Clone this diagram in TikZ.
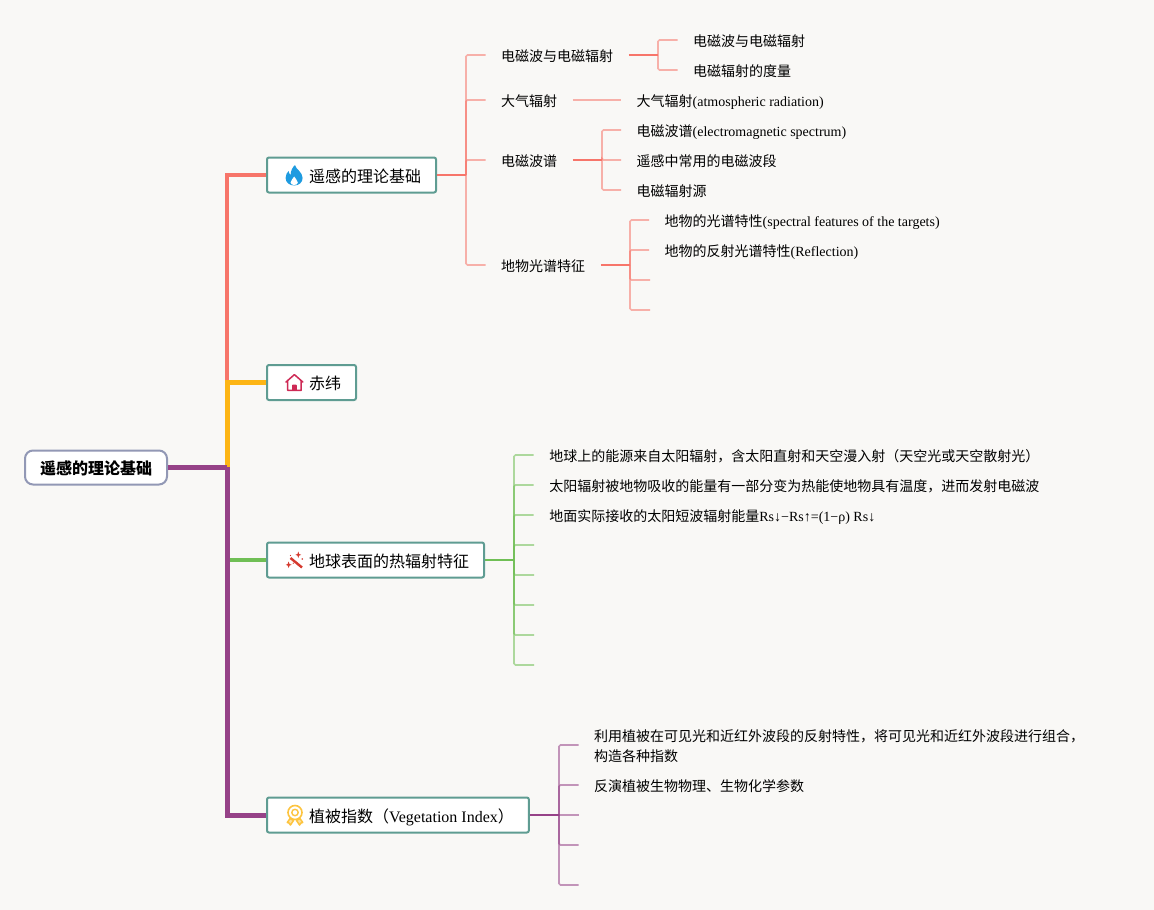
\documentclass[tikz,border=0pt]{standalone}
\usepackage{fontspec}
\setmainfont{Noto Sans CJK SC}
\newfontfamily\lat{Liberation Serif}
\definecolor{bgc}{HTML}{F9F8F6}
\definecolor{redc}{HTML}{F7756A}
\definecolor{yelc}{HTML}{FDB515}
\definecolor{grnc}{HTML}{70BF55}
\definecolor{purc}{HTML}{964288}
\definecolor{tealc}{HTML}{5F9C92}
\definecolor{rootc}{HTML}{9298B5}
\definecolor{flamec}{HTML}{1E9BE0}
\definecolor{housec}{HTML}{CE2A55}
\definecolor{wandc}{HTML}{D5392E}
\definecolor{medalc}{HTML}{FDC43F}
\tikzset{
  rootbox/.style={draw=rootc,line width=2pt,fill=white,rounded corners=8pt,anchor=west,
    inner xsep=15pt,inner ysep=0pt,minimum height=34pt,text height=1.6em,text depth=.12em,
    font=\fontsize{16}{20}\selectfont\bfseries},
  topicbox/.style={draw=tealc,line width=2pt,fill=white,rounded corners=2pt,anchor=west,
    inner xsep=15pt,inner ysep=0pt,minimum height=35pt,text height=1.52em,text depth=.12em,
    font=\fontsize{16}{20}\selectfont},
  leaf/.style={anchor=west,inner xsep=15.5pt,inner ysep=0pt,text height=1.43em,text depth=.12em,
    font=\fontsize{14}{20}\selectfont},
  twoline/.style={anchor=west,inner xsep=15.5pt,inner ysep=0pt,align=left,
    font=\fontsize{14}{20}\selectfont},
  trunk/.style={line width=#1,line join=miter},
  stem/.style={draw=#1,line width=1.8pt},
  twig/.style={draw=#1,line width=1.6pt,opacity=.55,rounded corners=1.5pt},
}
\begin{document}
\begin{tikzpicture}[x=1pt,y=-1pt]
\useasboundingbox[fill=bgc] (0,0) rectangle (1154,910);

% main nodes
\node[rootbox] (root) at (24,467.5) {遥感的理论基础};
\node[topicbox] (t1) at (266,175) {\hspace*{27pt}遥感的理论基础};
\node[topicbox] (t2) at (266,382.5) {\hspace*{27pt}赤纬};
\node[topicbox] (t3) at (266,560) {\hspace*{27pt}地球表面的热辐射特征};
\node[topicbox] (t4) at (266,815) {\hspace*{27pt}植被指数（{\lat Vegetation Index}）};

% main connectors
\coordinate (jr) at (227,467);
\draw[redc,trunk=3.5pt] (jr) -- (227,175) -- (t1.west);
\draw[grnc,trunk=4pt] (jr |- t3.west) -- (t3.west);
\draw[yelc,trunk=5pt] (jr) -- (227,382.5) -- (t2.west);
\draw[purc,trunk=5pt] (root.east |- jr) -- (jr);
\draw[purc,trunk=5pt] (jr) -- (227,815) -- (t4.west);

% branch 1
\node[leaf] (a1) at (485.5,55) {电磁波与电磁辐射};
\node[leaf] (a2) at (485.5,100) {大气辐射};
\node[leaf] (a3) at (485.5,160) {电磁波谱};
\node[leaf] (a4) at (485.5,265) {地物光谱特征};
\coordinate (ba) at (466,175);
\draw[stem=redc] (t1.east) -- (ba);
\foreach \c in {a1,a2,a3,a4} \draw[twig=redc] (ba) |- (\c.west);

\node[leaf] (a11) at (677.5,40) {电磁波与电磁辐射};
\node[leaf] (a12) at (677.5,70) {电磁辐射的度量};
\coordinate (ba1) at (658,55);
\draw[stem=redc] (a1.east) -- (ba1);
\foreach \c in {a11,a12} \draw[twig=redc] (ba1) |- (\c.west);

\node[leaf] (a21) at (621,100) {大气辐射{\lat(atmospheric radiation)}};
\draw[twig=redc] (a2.east) -- (a21.west);

\node[leaf] (a31) at (621,130) {电磁波谱{\lat(electromagnetic spectrum)}};
\node[leaf] (a32) at (621,160) {遥感中常用的电磁波段};
\node[leaf] (a33) at (621,190) {电磁辐射源};
\coordinate (ba3) at (602,160);
\draw[stem=redc] (a3.east) -- (ba3);
\foreach \c in {a31,a32,a33} \draw[twig=redc] (ba3) |- (\c.west);

\node[leaf] (a41) at (649,220) {地物的光谱特性{\lat(spectral features of the targets)}};
\node[leaf] (a42) at (649,250) {地物的反射光谱特性{\lat(Reflection)}};
\coordinate (a43) at (650,280);
\coordinate (a44) at (650,310);
\coordinate (ba4) at (630,265);
\draw[stem=redc] (a4.east) -- (ba4);
\draw[twig=redc] (ba4) |- (a41.west);
\draw[twig=redc] (ba4) |- (a42.west);
\draw[twig=redc] (ba4) |- (a43);
\draw[twig=redc] (ba4) |- (a44);

% branch 3
\node[leaf] (c1) at (533.7,455) {地球上的能源来自太阳辐射，含太阳直射和天空漫入射（天空光或天空散射光）};
\node[leaf] (c2) at (533.7,485) {太阳辐射被地物吸收的能量有一部分变为热能使地物具有温度，进而发射电磁波};
\node[leaf] (c3) at (533.7,515) {地面实际接收的太阳短波辐射能量{\lat Rs↓−Rs↑=(1−ρ) Rs↓}};
\coordinate (c4) at (534,545);
\coordinate (c5) at (534,575);
\coordinate (c6) at (534,605);
\coordinate (c7) at (534,635);
\coordinate (c8) at (534,665);
\coordinate (bc) at (514,560);
\draw[stem=grnc] (t3.east) -- (bc);
\draw[twig=grnc] (bc) |- (c1.west);
\draw[twig=grnc] (bc) |- (c2.west);
\draw[twig=grnc] (bc) |- (c3.west);
\foreach \c in {c4,c5,c6,c7,c8} \draw[twig=grnc] (bc) |- (\c);

% branch 4
\node[twoline] (d1) at (578.5,746.5) {利用植被在可见光和近红外波段的反射特性，将可见光和近红外波段进行组合，\\构造各种指数};
\node[leaf] (d2) at (578.5,785) {反演植被生物物理、生物化学参数};
\coordinate (d3) at (578.5,815);
\coordinate (d4) at (578.5,845);
\coordinate (d5) at (578.5,885);
\coordinate (bd) at (559,815);
\draw[stem=purc] (t4.east) -- (bd);
\draw[twig=purc] (bd) |- (578.5,745);
\draw[twig=purc] (bd) |- (d2.west);
\draw[twig=purc] (bd) -- (d3);
\draw[twig=purc] (bd) |- (d4);
\draw[twig=purc] (bd) |- (d5);

% icon: flame
\fill[flamec] (295,165) .. controls (295.5,169) and (302.6,172) .. (302.6,178)
  .. controls (302.6,182.5) and (298.8,185.5) .. (294.2,185.5)
  .. controls (289.6,185.5) and (285.6,182.5) .. (285.6,178)
  .. controls (285.6,175) and (287,172.5) .. (288.6,171)
  .. controls (288.9,173) and (289.6,174.5) .. (290.6,175)
  .. controls (290.6,171) and (292.6,167) .. (295,165) -- cycle;
\fill[white] (294.2,176.5) .. controls (295.1,179) and (297.8,180) .. (297.8,182.5)
  .. controls (297.8,184) and (296.4,185) .. (294.2,185)
  .. controls (292,185) and (290.6,184) .. (290.6,182.5)
  .. controls (290.6,180) and (293.2,179) .. (294.2,176.5) -- cycle;

% icon: house
\draw[housec,line width=1.5pt,line join=round,line cap=round]
  (286,382) -- (294.4,374.6) -- (302.8,382)
  (287.6,381) -- (287.6,390.3) -- (301.2,390.3) -- (301.2,381);
\fill[housec,rounded corners=.8pt] (292,390.8) rectangle (296.8,384.5);

% icon: wand
\draw[wandc,line width=2.4pt] (290.5,558) -- (302,567.5);
\fill[wandc] (298.3,551.5) -- (299.1,554) -- (301.2,554.8) -- (299.1,555.6) -- (298.3,558) -- (297.5,555.6) -- (295.4,554.8) -- (297.5,554) -- cycle;
\fill[wandc] (288.6,561.5) -- (289.5,564) -- (291.7,564.8) -- (289.5,565.6) -- (288.6,568) -- (287.7,565.6) -- (285.8,564.8) -- (287.7,564) -- cycle;
\fill[wandc] (302.3,559) circle (.9);
\fill[wandc] (293.3,563.2) circle (.7);
\fill[wandc] (290.5,555.5) circle (.7);

% icon: medal
\draw[medalc,line width=1.6pt] (295,812.5) circle (7);
\draw[medalc,line width=1.4pt] (295,812.5) circle (3.2);
\draw[medalc,line width=1.5pt,line join=round,fill=medalc!50]
  (290,818.5) -- (287.3,822.5) -- (289,823) -- (290.5,825) -- (293.5,820.5) -- cycle
  (300,818.5) -- (302.7,822.5) -- (301,823) -- (299.5,825) -- (296.5,820.5) -- cycle;
\end{tikzpicture}
\end{document}
